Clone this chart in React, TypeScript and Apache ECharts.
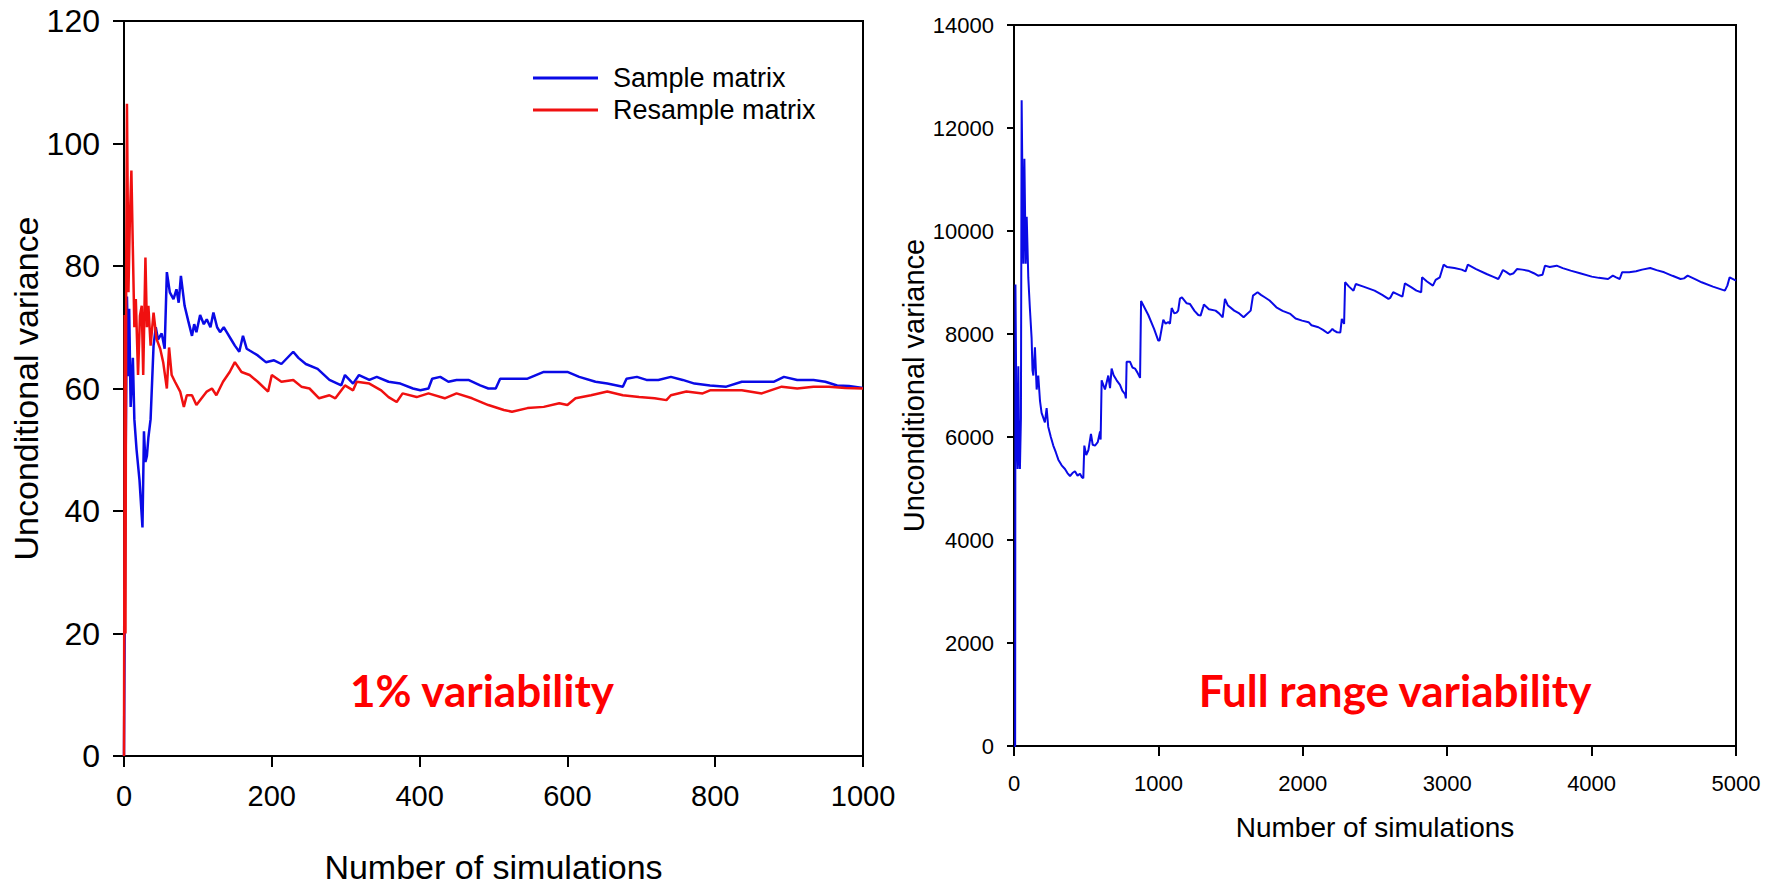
import React, { useEffect, useRef } from "react";
import * as echarts from "echarts";

// ---- Data ----
const leftXTicks = [0, 200, 400, 600, 800, 1000];
const leftYTicks = [0, 20, 40, 60, 80, 100, 120];
const rightXTicks = [0, 1000, 2000, 3000, 4000, 5000];
const rightYTicks = [0, 2000, 4000, 6000, 8000, 10000, 12000, 14000];

const seriesNames = ["Sample matrix", "Resample matrix"];

// Sample matrix (blue), 1% variability: [number of simulations, variance]
const sampleMatrix: [number, number][] = [
  [0, 0], [2, 45], [4, 75], [6, 62], [7, 73], [9, 57], [12, 65], [14, 55], [17, 50], [21, 45],
  [25, 37.3], [27, 53], [29, 48], [31, 49], [33, 52], [36, 55], [40, 67], [43, 70], [46, 68],
  [51, 69], [55, 66.5], [58, 79], [62, 75.7], [67, 74.6], [71, 76.2], [74, 74], [77, 78.4],
  [82, 73.5], [87, 71], [92, 68.6], [95, 70.5], [98, 69.2], [103, 72], [108, 70.5], [112, 71.3], [117, 70],
  [121, 72.4], [126, 70], [130, 69.2], [135, 70], [139, 69.2], [145, 68], [150, 67], [156, 66], [161, 68.6],
  [166, 66.5], [170, 66.2], [181, 65.4], [192, 64.3], [203, 64.6], [213, 64], [229, 66], [236, 65],
  [246, 64], [262, 63.2], [278, 61.4], [294, 60.5], [299, 62.2], [310, 60.8], [318, 62.2],
  [332, 61.4], [342, 61.9], [358, 61.1], [374, 60.8], [391, 60], [401, 59.7], [412, 60],
  [417, 61.6], [428, 61.9], [439, 61.1], [450, 61.4], [466, 61.4], [482, 60.5], [493, 60],
  [503, 60], [509, 61.6], [530, 61.6], [546, 61.6], [568, 62.7], [584, 62.7], [600, 62.7],
  [616, 61.9], [638, 61.1], [654, 60.8], [675, 60.3], [680, 61.6], [694, 61.9], [707, 61.4],
  [723, 61.4], [740, 61.9], [756, 61.4], [772, 60.8], [793, 60.5], [815, 60.3], [836, 61.1],
  [858, 61.1], [879, 61.1], [893, 61.9], [911, 61.4], [933, 61.4], [949, 61.1], [965, 60.5],
  [981, 60.4], [1000, 60.1],
];

// Resample matrix (red), 1% variability
const resampleMatrix: [number, number][] = [
  [0, 0], [1, 72], [2, 20], [3, 80], [4, 106.5], [6, 75.7], [8, 88], [10, 95.6], [12, 82.7],
  [14, 70], [16, 74.6], [19, 62.2], [21.6, 71.9], [24, 73.5], [26, 62.2], [29, 81.4], [31, 70],
  [33, 73.5], [36, 67], [40, 72.4], [44, 68.1], [49, 66.5], [53, 64.3], [58, 60], [61, 66.7],
  [64.5, 62.2], [69, 61.1], [76, 59.5], [81, 57], [85, 58.9], [92, 58.9], [98, 57.3], [105, 58.4],
  [112, 59.5], [119, 60], [125, 58.9], [134, 61.1], [143, 62.7], [150, 64.3], [159, 62.7],
  [170, 62.2], [181, 61.1], [195, 59.5], [200, 62.2], [213, 61.1], [229, 61.4], [240, 60.3],
  [251, 60], [264, 58.4], [278, 58.9], [286, 58.4], [299, 60.5], [310, 59.7], [315, 61.1],
  [332, 60.8], [348, 59.7], [358, 58.6], [369, 57.8], [377, 59.2], [396, 58.6], [412, 59.2],
  [434, 58.4], [450, 59.2], [471, 58.4], [493, 57.3], [514, 56.5], [525, 56.2], [546, 56.8],
  [568, 57], [589, 57.6], [600, 57.3], [611, 58.4], [632, 58.9], [654, 59.5], [675, 58.9],
  [697, 58.6], [718, 58.4], [734, 58.1], [740, 58.9], [761, 59.5], [783, 59.2], [793, 59.7],
  [815, 59.7], [836, 59.7], [863, 59.2], [890, 60.3], [911, 60], [933, 60.3], [954, 60.3],
  [976, 60.1], [1000, 60],
];

// Full range variability (blue)
const fullRange: [number, number][] = [
  [0, 0], [8, 0], [10, 8960], [18, 6000], [25, 5379], [30, 7372], [36, 5600], [41, 5379],
  [48, 6370], [53, 12538], [60, 10500], [65, 9366], [72, 11404], [81, 9366], [88, 10277],
  [99, 9094], [110, 8500], [122, 7916], [128, 7300], [134, 7193], [145, 7743], [157, 6922],
  [168, 7193], [180, 6700], [191, 6467], [214, 6285], [226, 6560], [237, 6200], [255, 6000],
  [272, 5833], [290, 5700], [307, 5560], [330, 5450], [353, 5379], [370, 5300], [388, 5243],
  [405, 5300], [422, 5334], [440, 5250], [457, 5288], [470, 5220], [480, 5198], [487, 5833],
  [500, 5650], [515, 5742], [533, 6061], [545, 5850], [561, 5833], [580, 5900], [596, 6106],
  [600, 5950], [607, 7101], [630, 6922], [653, 7193], [665, 6950], [676, 7329], [690, 7200],
  [711, 7101], [734, 7011], [750, 6900], [769, 6830], [775, 6750], [780, 7463], [803, 7463],
  [820, 7350], [838, 7329], [855, 7250], [873, 7147], [880, 8641], [930, 8369], [970, 8100],
  [999, 7872], [1008, 7873], [1034, 8278], [1050, 8200], [1069, 8233], [1080, 8200],
  [1092, 8505], [1110, 8400], [1126, 8415], [1137, 8454], [1149, 8687], [1163, 8713],
  [1196, 8596], [1218, 8584], [1250, 8450], [1276, 8369], [1292, 8357], [1311, 8532],
  [1315, 8571], [1350, 8480], [1396, 8454], [1420, 8400], [1445, 8325], [1461, 8681],
  [1480, 8560], [1525, 8454], [1560, 8400], [1590, 8325], [1610, 8380], [1639, 8454],
  [1655, 8745], [1687, 8810], [1710, 8760], [1736, 8713], [1770, 8650], [1817, 8519],
  [1860, 8450], [1914, 8390], [1950, 8300], [1995, 8260], [2040, 8230], [2060, 8170],
  [2108, 8131], [2140, 8080], [2173, 8015], [2190, 8050], [2205, 8099], [2220, 8060],
  [2237, 8034], [2260, 8030], [2270, 8293], [2286, 8196], [2293, 9004], [2320, 8920],
  [2351, 8842], [2367, 8971], [2420, 8920], [2497, 8842], [2550, 8760], [2593, 8681],
  [2605, 8700], [2626, 8810], [2650, 8780], [2690, 8726], [2707, 8984], [2750, 8910],
  [2787, 8842], [2820, 8810], [2826, 9101], [2860, 9020], [2901, 8939], [2920, 9050],
  [2949, 9101], [2975, 9346], [3000, 9300], [3050, 9280], [3100, 9250], [3127, 9217],
  [3143, 9346], [3200, 9260], [3273, 9165], [3320, 9110], [3354, 9068], [3370, 9150],
  [3386, 9243], [3410, 9200], [3435, 9152], [3460, 9180], [3483, 9262], [3520, 9250],
  [3560, 9230], [3600, 9180], [3629, 9133], [3660, 9150], [3677, 9327], [3710, 9300],
  [3758, 9327], [3800, 9280], [3855, 9230], [3920, 9180], [4001, 9114], [4050, 9090],
  [4114, 9068], [4147, 9133], [4170, 9100], [4195, 9068], [4211, 9198], [4260, 9200],
  [4308, 9217], [4350, 9250], [4406, 9282], [4450, 9240], [4503, 9198], [4560, 9130],
  [4616, 9068], [4640, 9080], [4665, 9133], [4720, 9060], [4762, 9004], [4840, 8920],
  [4923, 8842], [4940, 8939], [4956, 9101], [5000, 9036],
];

const annotations = ["1% variability", "Full range variability"];
const yName = "Unconditional variance";
const xName = "Number of simulations";

const BLUE = "#0a0ae6";
const RED = "#f01010";
const FONT = "'Liberation Sans', Arial, sans-serif";

function axisCommon(tickLen: number, fontSize: number, margin: number) {
  return {
    axisLine: { show: true, onZero: false, lineStyle: { color: "#000", width: 2 } },
    axisTick: { show: true, inside: false, length: tickLen, lineStyle: { color: "#000", width: 2 } },
    axisLabel: {
      color: "#000", fontSize, fontFamily: FONT, margin,
      formatter: (v: number) => String(v),
    },
    splitLine: { show: false },
    nameTextStyle: { color: "#000", fontFamily: FONT },
  };
}

export default function App() {
  const ref = useRef<HTMLDivElement>(null);
  useEffect(() => {
    if (!ref.current) return;
    const chart = echarts.init(ref.current, undefined, { renderer: "svg" });
    const lx = axisCommon(11, 29, 25);
    const ly = axisCommon(11, 32, 24);
    const rx = axisCommon(10, 22, 26);
    const ry = axisCommon(7, 22, 20);
    chart.setOption({
      animation: false,
      backgroundColor: "#fff",
      grid: [
        { left: 124, top: 21, width: 739, height: 739, show: true, borderColor: "#000", borderWidth: 2, containLabel: false },
        { left: 1014, top: 25, width: 722, height: 721, show: true, borderColor: "#000", borderWidth: 2, containLabel: false },
      ],
      xAxis: [
        {
          ...lx, type: "value", gridIndex: 0, min: leftXTicks[0], max: leftXTicks[leftXTicks.length - 1], interval: 200,
          name: xName, nameLocation: "middle", nameGap: 94,
          nameTextStyle: { ...lx.nameTextStyle, fontSize: 34 },
        },
        {
          ...rx, type: "value", gridIndex: 1, min: rightXTicks[0], max: rightXTicks[rightXTicks.length - 1], interval: 1000,
          name: xName, nameLocation: "middle", nameGap: 67,
          nameTextStyle: { ...rx.nameTextStyle, fontSize: 28 },
        },
      ],
      yAxis: [
        {
          ...ly, type: "value", gridIndex: 0, min: leftYTicks[0], max: leftYTicks[leftYTicks.length - 1], interval: 20,
          name: yName, nameLocation: "middle", nameGap: 70,
          nameTextStyle: { ...ly.nameTextStyle, fontSize: 34 },
        },
        {
          ...ry, type: "value", gridIndex: 1, min: rightYTicks[0], max: rightYTicks[rightYTicks.length - 1], interval: 2000,
          name: yName, nameLocation: "middle", nameGap: 52,
          nameTextStyle: { ...ry.nameTextStyle, fontSize: 29 },
        },
      ],
      legend: {
        data: seriesNames,
        orient: "vertical",
        left: 528,
        top: 57,
        itemWidth: 65,
        itemHeight: 3,
        itemGap: 0,
        icon: "rect",
        textStyle: { color: "#000", fontSize: 27, fontFamily: FONT, lineHeight: 32, padding: [0, 0, 0, 10] },
      },
      series: [
        {
          name: seriesNames[0], type: "line", xAxisIndex: 0, yAxisIndex: 0, data: sampleMatrix,
          symbol: "none", showSymbol: false, color: BLUE, lineStyle: { color: BLUE, width: 2.5 }, z: 2,
        },
        {
          name: seriesNames[1], type: "line", xAxisIndex: 0, yAxisIndex: 0, data: resampleMatrix,
          symbol: "none", showSymbol: false, color: RED, lineStyle: { color: RED, width: 2.5 }, z: 3,
        },
        {
          name: "Full range", type: "line", xAxisIndex: 1, yAxisIndex: 1, data: fullRange,
          symbol: "none", showSymbol: false, color: BLUE, lineStyle: { color: BLUE, width: 2 }, z: 2,
        },
      ],
      graphic: [
        {
          type: "text", x: 482, y: 690,
          style: { text: annotations[0], fill: "#ff0000", fontSize: 44, fontWeight: "bold", fontFamily: "Lato, sans-serif", align: "center", verticalAlign: "middle" },
        },
        {
          type: "text", x: 1395, y: 690,
          style: { text: annotations[1], fill: "#ff0000", fontSize: 44, fontWeight: "bold", fontFamily: "Lato, sans-serif", align: "center", verticalAlign: "middle" },
        },
      ],
    });
    return () => chart.dispose();
  }, []);
  return (
    <div
      ref={ref}
      style={{ position: "fixed", left: 0, top: 0, width: 1773, height: 889, background: "#fff" }}
    />
  );
}
